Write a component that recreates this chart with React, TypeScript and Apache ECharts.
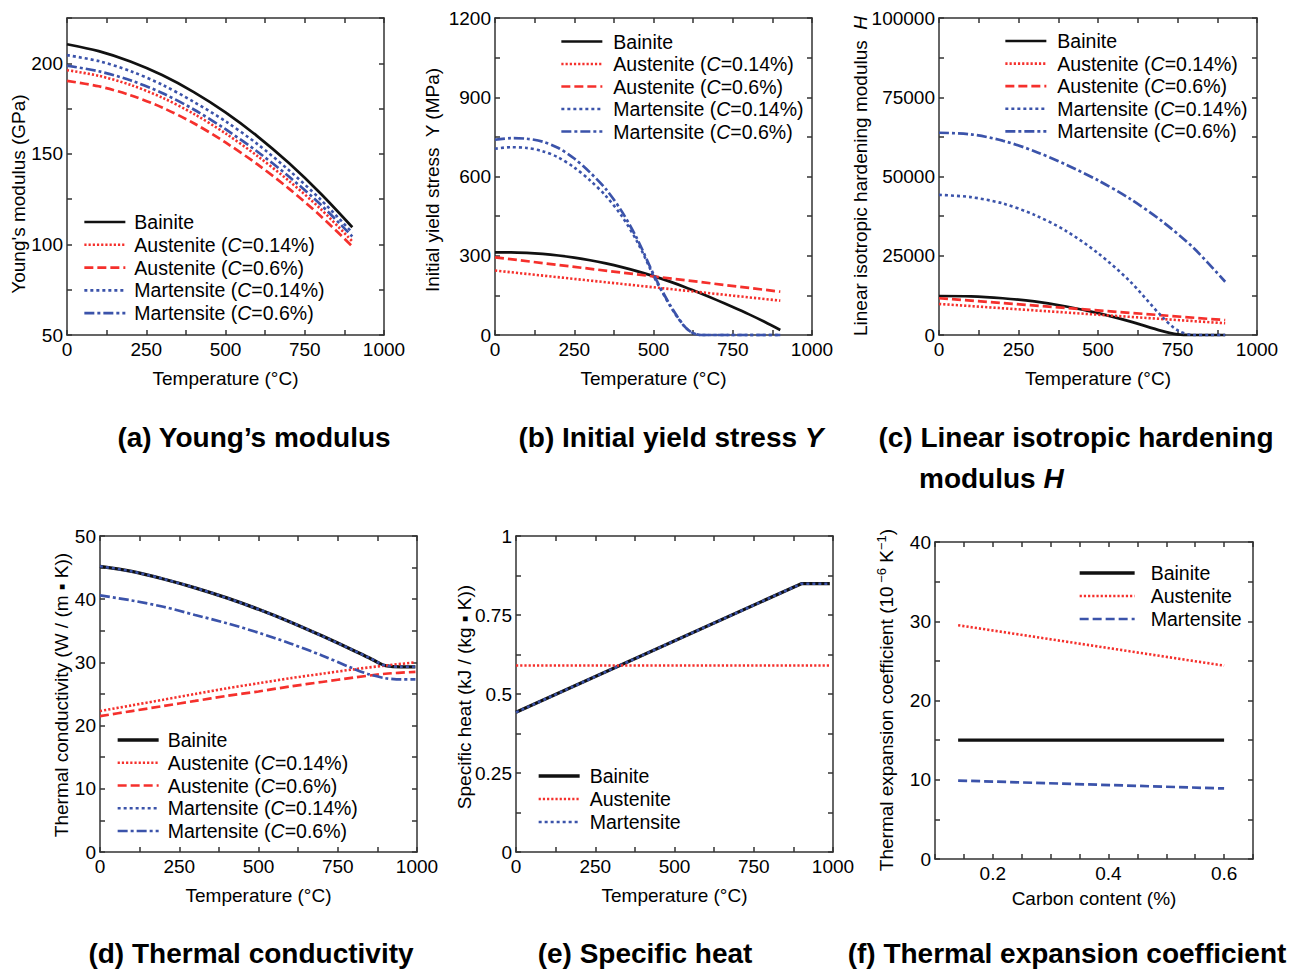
import React, { useEffect, useRef } from 'react';
import * as echarts from 'echarts';

const FONT = '"Liberation Sans", Arial, Helvetica, sans-serif';
const BLACK = '#111111';
const RED = '#f5302c';
const BLUE = '#3b53aa';
const FRAME = '#333333';

// ---- (a) Young's modulus (GPa) vs temperature
const tempA = [0, 100, 200, 300, 400, 500, 600, 700, 800, 900];
const youngBainite = [210.5, 206.7, 201.0, 193.5, 184.1, 172.9, 159.8, 144.9, 128.1, 109.5];
const youngAust014 = [196.2, 193.1, 188.1, 181.1, 172.1, 161.3, 148.9, 135.1, 119.6, 101.7];
const youngAust06 = [190.3, 187.3, 182.4, 175.6, 166.9, 156.3, 144.3, 130.8, 115.7, 98.9];
const youngMart014 = [204.5, 201.2, 195.7, 188.2, 178.7, 168.0, 155.5, 141.0, 124.8, 106.5];
const youngMart06 = [198.7, 195.6, 190.6, 183.6, 174.5, 163.6, 151.3, 137.5, 122.0, 104.4];

// ---- (b) Initial yield stress (MPa)
const tempB = [0, 50, 100, 150, 200, 250, 300, 350, 400, 450, 500, 550, 600, 650, 700, 750, 800, 850, 900];
const yieldBainite = [313, 313, 311, 307, 301, 293, 283, 271, 257, 241, 223, 203, 181, 157, 132, 106, 79, 50, 19];
const tempBLinear = [0, 900];
const yieldAust014 = [244, 130];
const yieldAust06 = [294, 164];
const tempBMart = [0, 50, 100, 150, 200, 250, 300, 350, 400, 450, 500, 525, 550, 575, 600, 625, 650, 700, 750, 800, 850, 900];
const yieldMart014 = [705, 711, 708, 696, 672, 634, 585, 526, 450, 350, 224, 168, 115, 68, 29, 7, 0, 0, 0, 0, 0, 0];
const yieldMart06 = [739, 745, 743, 732, 708, 668, 615, 552, 468, 360, 230, 172, 118, 70, 30, 7, 0, 0, 0, 0, 0, 0];

// ---- (c) Linear isotropic hardening modulus H
const tempC = [0, 100, 200, 300, 400, 500, 600, 700, 750, 800, 850, 900];
const hardBainite = [12300, 12200, 11600, 10600, 9000, 6900, 4300, 1300, 200, 0, 0, 0];
const hardMart014 = [44200, 43500, 41500, 37900, 32800, 25800, 17000, 5900, 1500, 0, 0, 0];
const tempCFull = [0, 100, 200, 300, 400, 500, 600, 700, 800, 900];
const hardMart06 = [63800, 63300, 61300, 58000, 53700, 48800, 43000, 36000, 27500, 16800];
const tempCLinear = [0, 900];
const hardAust014 = [9800, 3700];
const hardAust06 = [11600, 4700];

// ---- (d) Thermal conductivity W/(m·K)
const tempD = [0, 100, 200, 300, 400, 500, 600, 700, 800, 850, 880, 900, 950, 995];
const condBainite = [45.2, 44.4, 43.2, 41.8, 40.2, 38.4, 36.4, 34.2, 31.9, 30.7, 29.9, 29.5, 29.3, 29.3];
const condMart014 = [45.2, 44.4, 43.2, 41.8, 40.2, 38.4, 36.4, 34.2, 31.9, 30.7, 29.9, 29.5, 29.3, 29.3];
const tempDMart06 = [0, 100, 200, 300, 400, 500, 600, 700, 800, 850, 900, 950, 995];
const condMart06 = [40.6, 39.8, 38.8, 37.5, 36.2, 34.7, 33.0, 31.1, 29.0, 28.1, 27.5, 27.3, 27.3];
const tempDAust = [0, 100, 200, 300, 400, 500, 600, 700, 800, 900, 995];
const condAust014 = [22.3, 23.2, 24.1, 25.0, 25.9, 26.7, 27.5, 28.2, 28.9, 29.5, 30.0];
const condAust06 = [21.5, 22.3, 23.1, 23.9, 24.7, 25.4, 26.2, 26.9, 27.6, 28.2, 28.5];

// ---- (e) Specific heat kJ/(kg·K)
const tempE = [0, 900, 990];
const heatBainite = [0.442, 0.849, 0.849];
const heatMart = [0.442, 0.849, 0.849];
const tempEAust = [0, 990];
const heatAust = [0.59, 0.59];

// ---- (f) Thermal expansion coefficient (1e-6 /K) vs carbon content
const carbon = [0.14, 0.6];
const expBainite = [15.0, 15.0];
const expAust = [29.5, 24.4];
const expMart = [9.9, 8.9];

type LS = { color: string; width: number; type: any };
const ST: Record<string, LS> = {
  bainite: { color: BLACK, width: 2.7, type: 'solid' },
  bainiteThick: { color: BLACK, width: 3.3, type: 'solid' },
  aust014: { color: RED, width: 2.6, type: [2.2, 2] },
  aust06: { color: RED, width: 2.7, type: [9, 4] },
  mart014: { color: BLUE, width: 2.6, type: [3, 3] },
  mart06: { color: BLUE, width: 2.7, type: [10, 3, 3, 3] },
  martDash: { color: BLUE, width: 2.7, type: [9, 4] },
};

const pairs = (x: number[], y: number[]) => x.map((t, i) => [t, y[i]]);

function line(g: number, name: string, xs: number[], ys: number[], st: LS, smooth: number | boolean = 0.3) {
  return {
    type: 'line',
    name,
    xAxisIndex: g * 2,
    yAxisIndex: g * 2,
    data: pairs(xs, ys),
    symbol: 'none',
    showSymbol: false,
    smooth,
    clip: false,
    lineStyle: { color: st.color, width: st.width, type: st.type, cap: 'butt' },
    itemStyle: { color: st.color },
    emphasis: { disabled: true },
  };
}

const lineStyleAxis = { color: FRAME, width: 1.5 };
const tickLabelStyle = { fontSize: 19, color: '#000', fontFamily: FONT };
const nameStyle = { fontSize: 19, color: '#000', fontFamily: FONT };

const stepFmt = (step: number, fmt: (v: number) => string) => (v: number) => {
  const k = v / step;
  return Math.abs(k - Math.round(k)) < 1e-6 ? fmt(v) : '';
};

function axesX(g: number, min: number, max: number, interval: number, fmt: any, name: string, nameGap: number) {
  const common = {
    type: 'value', gridIndex: g, min, max, interval,
    axisLine: { show: true, onZero: false, lineStyle: lineStyleAxis },
    axisTick: { show: true, inside: true, length: 5, lineStyle: lineStyleAxis },
    splitLine: { show: false },
  };
  return [
    { ...common, position: 'bottom', axisLabel: { ...tickLabelStyle, margin: 5, formatter: fmt }, name, nameLocation: 'middle', nameGap, nameTextStyle: nameStyle },
    { ...common, position: 'top', axisLabel: { show: false } },
  ];
}

function axesY(g: number, min: number, max: number, interval: number, fmt: any) {
  const common = {
    type: 'value', gridIndex: g, min, max, interval,
    axisLine: { show: true, onZero: false, lineStyle: lineStyleAxis },
    axisTick: { show: true, inside: true, length: 5, lineStyle: lineStyleAxis },
    splitLine: { show: false },
  };
  return [
    { ...common, position: 'left', axisLabel: { ...tickLabelStyle, margin: 4, formatter: fmt } },
    { ...common, position: 'right', axisLabel: { show: false } },
  ];
}

const tempFmt = stepFmt(250, (v) => String(v));

const legendItem = (name: string, st: LS) => ({
  name,
  lineStyle: { color: st.color, width: st.width, type: st.type, cap: 'butt' },
  itemStyle: { color: st.color, opacity: 0 },
});

function legend(left: number, top: number, gap: number, itemWidth: number, textPad: number, items: any[]) {
  return {
    orient: 'vertical', left, top, padding: 0, itemGap: gap, itemWidth, itemHeight: 14,
    selectedMode: false,
    textStyle: { fontSize: 19.5, fontFamily: FONT, color: '#000', lineHeight: 20, padding: [0, 0, 0, textPad], rich: { i: { fontStyle: 'italic', fontSize: 19.5, fontFamily: FONT } } },
    formatter: (n: string) => n.replace('(C=', '({i|C}='),
    data: items,
  };
}

const N_B = 'Bainite';
const N_A014 = 'Austenite (C=0.14%)';
const N_A06 = 'Austenite (C=0.6%)';
const N_M014 = 'Martensite (C=0.14%)';
const N_M06 = 'Martensite (C=0.6%)';
const N_A = 'Austenite';
const N_M = 'Martensite';

const fiveItems = (bStyle: LS) => [
  legendItem(N_B, bStyle),
  legendItem(N_A014, ST.aust014),
  legendItem(N_A06, ST.aust06),
  legendItem(N_M014, ST.mart014),
  legendItem(N_M06, ST.mart06),
];

function yName(text: string, x: number, y: number) {
  return {
    type: 'text', x, y, rotation: Math.PI / 2, silent: true,
    style: {
      text, fontSize: 19, fontFamily: FONT, fill: '#000', align: 'center', verticalAlign: 'middle', lineHeight: 22,
      rich: {
        i: { fontStyle: 'italic', fontSize: 19, fontFamily: FONT, lineHeight: 22 },
        sup: { fontSize: 13, fontFamily: FONT, lineHeight: 13, verticalAlign: 'top' },
      },
    },
  };
}

function caption(text: string, x: number, y: number, align = 'center') {
  return {
    type: 'text', x, y, silent: true,
    style: {
      text, fontSize: 28, fontWeight: 'bold', fontFamily: FONT, fill: '#000', align, verticalAlign: 'middle',
      rich: { i: { fontStyle: 'italic', fontWeight: 'bold', fontSize: 28, fontFamily: FONT } },
    },
  };
}

const option: any = {
  animation: false,
  backgroundColor: '#ffffff',
  grid: [
    { left: 67, top: 18, width: 317, height: 317 },
    { left: 495, top: 18, width: 317, height: 317 },
    { left: 939, top: 18, width: 318, height: 317 },
    { left: 100, top: 536, width: 317, height: 316 },
    { left: 516, top: 536, width: 317, height: 316 },
    { left: 935, top: 542, width: 318, height: 317 },
  ],
  xAxis: [
    ...axesX(0, 0, 1000, 125, tempFmt, 'Temperature (°C)', 34),
    ...axesX(1, 0, 1000, 125, tempFmt, 'Temperature (°C)', 34),
    ...axesX(2, 0, 1000, 125, tempFmt, 'Temperature (°C)', 34),
    ...axesX(3, 0, 1000, 125, tempFmt, 'Temperature (°C)', 34),
    ...axesX(4, 0, 1000, 125, tempFmt, 'Temperature (°C)', 34),
    ...axesX(5, 0.1, 0.65, 0.05, (v: number) => ([20, 40, 60].includes(Math.round(v * 100)) ? v.toFixed(1) : ''), 'Carbon content (%)', 30),
  ],
  yAxis: [
    ...axesY(0, 50, 225, 25, stepFmt(50, (v) => String(v))),
    ...axesY(1, 0, 1200, 150, stepFmt(300, (v) => String(v))),
    ...axesY(2, 0, 100000, 12500, stepFmt(25000, (v) => String(v))),
    ...axesY(3, 0, 50, 5, stepFmt(10, (v) => String(v))),
    ...axesY(4, 0, 1, 0.125, stepFmt(0.25, (v) => String(+v.toFixed(3)))),
    ...axesY(5, 0, 40, 5, stepFmt(10, (v) => String(v))),
  ],
  legend: [
    legend(83, 212, 2.8, 41, 4, fiveItems(ST.bainite)),
    legend(560, 31.5, 2.5, 41, 6, fiveItems(ST.bainite)),
    legend(1004, 31, 2.6, 41, 6, fiveItems(ST.bainite)),
    legend(116, 730, 2.75, 41, 4, fiveItems(ST.bainiteThick)),
    legend(537, 766, 3, 41, 5, [legendItem(N_B, ST.bainiteThick), legendItem(N_A, ST.aust014), legendItem(N_M, ST.mart014)]),
    legend(1078, 563, 3, 55, 11, [legendItem(N_B, ST.bainiteThick), legendItem(N_A, ST.aust014), legendItem(N_M, ST.martDash)]),
  ],
  series: [
    // (a)
    line(0, N_B, tempA, youngBainite, ST.bainite),
    line(0, N_A014, tempA, youngAust014, ST.aust014),
    line(0, N_A06, tempA, youngAust06, ST.aust06),
    line(0, N_M014, tempA, youngMart014, ST.mart014),
    line(0, N_M06, tempA, youngMart06, ST.mart06),
    // (b)
    line(1, N_B, tempB, yieldBainite, ST.bainite),
    line(1, N_A014, tempBLinear, yieldAust014, ST.aust014, false),
    line(1, N_A06, tempBLinear, yieldAust06, ST.aust06, false),
    line(1, N_M014, tempBMart, yieldMart014, ST.mart014),
    line(1, N_M06, tempBMart, yieldMart06, ST.mart06),
    // (c)
    line(2, N_B, tempC, hardBainite, ST.bainite),
    line(2, N_A014, tempCLinear, hardAust014, ST.aust014, false),
    line(2, N_A06, tempCLinear, hardAust06, ST.aust06, false),
    line(2, N_M014, tempC, hardMart014, ST.mart014),
    line(2, N_M06, tempCFull, hardMart06, ST.mart06),
    // (d)
    line(3, N_B, tempD, condBainite, ST.bainiteThick),
    line(3, N_A014, tempDAust, condAust014, ST.aust014),
    line(3, N_A06, tempDAust, condAust06, ST.aust06),
    line(3, N_M014, tempD, condMart014, ST.mart014),
    line(3, N_M06, tempDMart06, condMart06, ST.mart06),
    // (e)
    line(4, N_B, tempE, heatBainite, ST.bainiteThick, false),
    line(4, N_M, tempE, heatMart, ST.mart014, false),
    line(4, N_A, tempEAust, heatAust, ST.aust014, false),
    // (f)
    line(5, N_B, carbon, expBainite, ST.bainiteThick, false),
    line(5, N_A, carbon, expAust, ST.aust014, false),
    line(5, N_M, carbon, expMart, ST.martDash, false),
  ],
  graphic: [
    yName("Young's modulus (GPa)", 18, 194),
    yName('Initial yield stress  Y (MPa)', 432, 180),
    yName('Linear isotropic hardening modulus  {i|H}', 860, 176),
    yName('Thermal conductivity (W / (m ▪ K))', 61, 695),
    yName('Specific heat (kJ / (kg ▪ K))', 464, 697),
    yName('Thermal expansion coefficient (10{sup| −6} K{sup|−1})', 886, 700),
    caption('(a) Young’s modulus', 254, 437),
    caption('(b) Initial yield stress {i|Y}', 671, 437),
    caption('(c) Linear isotropic hardening', 1076, 437),
    caption('modulus {i|H}', 919, 478, 'left'),
    caption('(d) Thermal conductivity', 251, 953),
    caption('(e) Specific heat', 645, 953),
    caption('(f) Thermal expansion coefficient', 1067, 953),
  ],
};

export default function App() {
  const ref = useRef<HTMLDivElement>(null);
  useEffect(() => {
    const chart = echarts.init(ref.current as HTMLDivElement, undefined, { renderer: 'svg' });
    chart.setOption(option);
    return () => chart.dispose();
  }, []);
  return <div ref={ref} style={{ position: 'absolute', left: 0, top: 0, width: 1291, height: 969 }} />;
}
